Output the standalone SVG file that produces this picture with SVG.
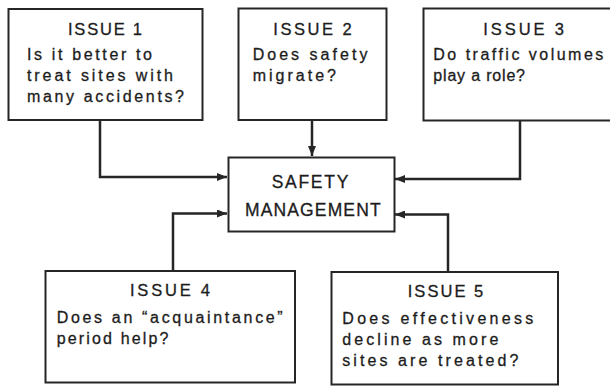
<svg xmlns="http://www.w3.org/2000/svg" width="610" height="386" viewBox="0 0 610 386">
<style>
.box{fill:#fff;stroke:#262626;stroke-width:2}
text{font-family:"Liberation Sans",Arial,sans-serif;fill:#1c1c1c;stroke:#1c1c1c;stroke-width:0.3}
.h{font-size:16.5px;text-anchor:middle}
.t{font-size:16px}
.c{font-size:17.5px;text-anchor:middle}
.ln{fill:none;stroke:#262626;stroke-width:2.5}
</style>
<defs>
<marker id="ah" viewBox="0 0 10 8" refX="10" refY="4" markerWidth="10" markerHeight="8" markerUnits="userSpaceOnUse" orient="auto">
<path d="M0,0 L10,4 L0,8 Z" fill="#262626"/>
</marker>
</defs>
<rect width="610" height="386" fill="#fff"/>
<g id="connectors">
<path class="ln" d="M100,120 V177 H227" marker-end="url(#ah)"/>
<path class="ln" d="M312,120 V156" marker-end="url(#ah)"/>
<path class="ln" d="M520,121 V179 H395" marker-end="url(#ah)"/>
<path class="ln" d="M173,271 V213.5 H227" marker-end="url(#ah)"/>
<path class="ln" d="M448,272 V214.5 H395" marker-end="url(#ah)"/>
</g>
<g id="issue1">
<rect class="box" x="8.5" y="9" width="194" height="111"/>
<text class="h" x="105" y="35" textLength="74" lengthAdjust="spacing">ISSUE 1</text>
<text class="t" x="27" y="60" textLength="125" lengthAdjust="spacing">Is it better to</text>
<text class="t" x="27" y="81" textLength="146" lengthAdjust="spacing">treat sites with</text>
<text class="t" x="27" y="101.5" textLength="157" lengthAdjust="spacing">many accidents?</text>
</g>
<g id="issue2">
<rect class="box" x="238.5" y="8.5" width="148" height="111.5"/>
<text class="h" x="312.5" y="35" textLength="78.4" lengthAdjust="spacing">ISSUE 2</text>
<text class="t" x="252.7" y="60" textLength="114.7" lengthAdjust="spacing">Does safety</text>
<text class="t" x="252.7" y="81" textLength="83.3" lengthAdjust="spacing">migrate?</text>
</g>
<g id="issue3">
<rect class="box" x="423.5" y="8.5" width="200" height="112"/>
<text class="h" x="523.7" y="35" textLength="80.7" lengthAdjust="spacing">ISSUE 3</text>
<text class="t" x="433.3" y="60" textLength="170" lengthAdjust="spacing">Do traffic volumes</text>
<text class="t" x="433.3" y="81" textLength="91.7" lengthAdjust="spacing">play a role?</text>
</g>
<g id="safety">
<rect class="box" x="228.5" y="157.5" width="166" height="74"/>
<text class="c" x="310" y="187.5" textLength="76.7" lengthAdjust="spacing">SAFETY</text>
<text class="c" x="312.8" y="215.5" textLength="135.7" lengthAdjust="spacing">MANAGEMENT</text>
</g>
<g id="issue4">
<rect class="box" x="45.5" y="271" width="249.5" height="111.5"/>
<text class="h" x="170" y="296" textLength="80" lengthAdjust="spacing">ISSUE 4</text>
<text class="t" x="56.7" y="323.3" textLength="226" lengthAdjust="spacing">Does an “acquaintance”</text>
<text class="t" x="56.7" y="344" textLength="111.7" lengthAdjust="spacing">period help?</text>
</g>
<g id="issue5">
<rect class="box" x="331.5" y="272" width="226.5" height="112.5"/>
<text class="h" x="445.5" y="297.3" textLength="75.6" lengthAdjust="spacing">ISSUE 5</text>
<text class="t" x="342.3" y="324" textLength="191" lengthAdjust="spacing">Does effectiveness</text>
<text class="t" x="342.3" y="345" textLength="156" lengthAdjust="spacing">decline as more</text>
<text class="t" x="342.3" y="366" textLength="176" lengthAdjust="spacing">sites are treated?</text>
</g>
</svg>
